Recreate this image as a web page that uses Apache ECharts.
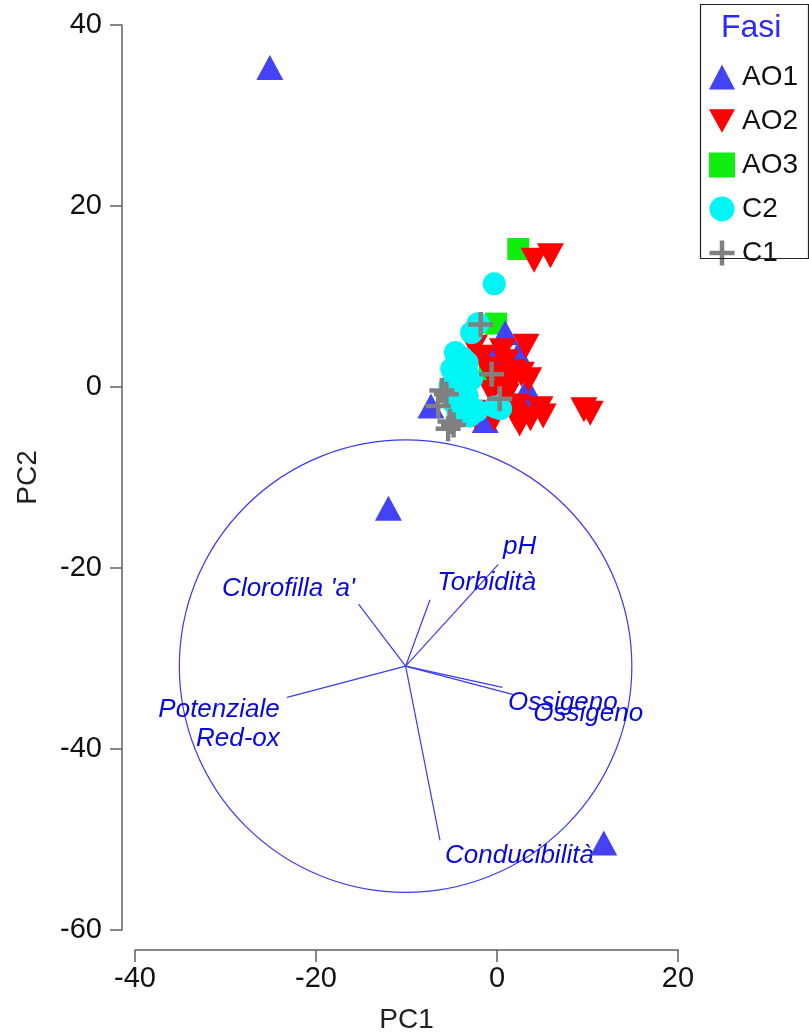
<!DOCTYPE html>
<html>
<head>
<meta charset="utf-8">
<script src="https://cdn.jsdelivr.net/npm/echarts@6/dist/echarts.min.js"></script>
<style>html,body{margin:0;padding:0;background:#fff}#c{width:809px;height:1034px}</style>
</head>
<body>
<div id="c"></div>
<script>
// ---- data ----
const groups = ['AO1', 'AO2', 'AO3', 'C2', 'C1'];
const ao1 = [[-25.1,35.3],[-12.0,-13.4],[11.8,-50.4],[0.9,6.0],[2.35,3.65],[3.35,-0.2],[-7.3,-2.1],[-0.2,3.5],[-1.3,-3.7],[2.9,-1.4]];
const ao2 = [[4.1,14.0],[5.9,14.5],[3.2,4.5],[-2.5,4.4],[-1.7,3.3],[0.6,4.0],[1.0,2.8],[1.8,1.7],[0.3,1.2],[2.7,1.4],[3.5,0.8],[1.0,-1.0],[-0.6,-0.6],[2.2,-2.1],[2.0,-3.2],[2.5,-4.1],[4.75,-2.4],[5.1,-3.2],[3.7,-3.5],[9.6,-2.5],[10.3,-2.9],[-2.2,-2.8],[-2.4,-3.3],[-0.3,-3.5],[1.5,0.3],[-1.0,2.0]];
const ao3 = [[2.35,15.25],[-0.1,7.0],[-0.8,1.7]];
const c2 = [[-0.3,11.4],[-2.1,7.0],[-2.8,6.0],[-4.6,3.8],[-3.8,3.2],[-3.3,2.7],[-5.0,2.0],[-4.0,1.0],[-2.8,0.9],[-5.2,0.1],[-3.8,-0.5],[-3.3,-1.0],[-4.8,-1.7],[-3.9,-2.6],[-2.2,-2.6],[-4.3,-3.0],[-3.0,-3.2],[-0.2,-2.2],[0.4,-2.4]];
const c1 = [[-1.8,6.9],[-0.6,1.4],[0.3,-1.3],[-5.6,-0.8],[-6.1,-0.4],[-6.5,-2.1],[-5.4,-4.6],[-4.8,-4.2],[-5.2,-3.8]];
// correlation circle: centre x, centre y, radius
const corrCircle = [[-10.1, -30.85, 25]];
const vectorOrigin = [-10.1, -30.85];
const vectorNames = ["Clorofilla 'a'", 'Torbidità', 'pH', 'Potenziale\nRed-ox', 'Ossigeno', 'Ossigeno', 'Conducibilità'];
const vectorEnds = [[-15.3,-24.0],[-7.4,-23.5],[0.15,-19.6],[-23.2,-34.3],[0.6,-33.2],[1.8,-34.0],[-6.3,-50.1]];
const vectorLabelAt = [[-15.7,-22.3],[-6.6,-21.6],[0.65,-17.7],[-24.0,-37.3],[1.2,-34.9],[4.0,-36.1],[-5.75,-51.8]];
const vectorLabelSide = ['left','right','right','left','right','right','right'];
const xTicks = {min: -40, max: 20, interval: 20};
const yTicks = {min: -60, max: 40, interval: 20};

// ---- styles ----
const FONT = "'Liberation Sans', Arial, sans-serif";
const VEC = '#3a3af0';
const VTXT = '#0808d8';
const colors = {AO1: '#4343f5', AO2: '#ff0000', AO3: '#10ee10', C2: '#00f5f5', C1: '#808080'};
const downTri = 'path://M0,0L1,0L0.5,0.9Z';
const plus = 'path://M0.41,0H0.59V0.41H1V0.59H0.59V1H0.41V0.59H0V0.41H0.41Z';

const chart = echarts.init(document.getElementById('c'), null, {renderer: 'canvas'});

const axisCommon = {
  axisLine: {show: true, onZero: false, lineStyle: {color: '#606060', width: 1.5}},
  axisTick: {show: true, length: 12, lineStyle: {color: '#606060', width: 1.5}},
  splitLine: {show: false},
  nameTextStyle: {fontFamily: FONT, fontSize: 28, color: '#222'}
};

const option = {
  animation: false,
  backgroundColor: '#fff',
  grid: {left: 135, right: 131, top: 25, bottom: 104, containLabel: false, outerBoundsMode: 'none'},
  xAxis: Object.assign({}, axisCommon, {
    type: 'value', min: xTicks.min, max: xTicks.max, interval: xTicks.interval,
    offset: 20, name: 'PC1', nameLocation: 'middle', nameGap: 56,
    axisLabel: {fontFamily: FONT, fontSize: 29, color: '#111', margin: 14}
  }),
  yAxis: Object.assign({}, axisCommon, {
    type: 'value', min: yTicks.min, max: yTicks.max, interval: yTicks.interval,
    offset: 13, name: 'PC2', nameLocation: 'middle', nameGap: 80, nameRotate: 90,
    axisLabel: {fontFamily: FONT, fontSize: 29, color: '#111', margin: 20}
  }),
  legend: {
    orient: 'vertical', left: 704, top: 58, itemWidth: 26, itemHeight: 25, itemGap: 16,
    data: groups, selectedMode: false,
    textStyle: {fontFamily: FONT, fontSize: 28, color: '#111', padding: [0,0,0,2]}
  },
  graphic: [
    {type: 'rect', left: 698, top: 2, shape: {width: 108, height: 254}, style: {fill: 'none', stroke: '#222', lineWidth: 1.2}, z: 100},
    {type: 'text', left: 721, top: 12, style: {text: 'Fasi', fontFamily: FONT, fontSize: 32, fill: '#2a2aff'}, z: 100}
  ],
  series: [
    {
      type: 'custom', name: 'circle', silent: true, z: 1,
      data: corrCircle, encode: {x: 0, y: 1},
      renderItem: function (params, api) {
        const c = api.coord([api.value(0), api.value(1)]);
        const s = api.size([api.value(2), api.value(2)]);
        return {type: 'circle', shape: {cx: c[0], cy: c[1], r: (s[0] + s[1]) / 2}, style: {fill: 'none', stroke: VEC, lineWidth: 1.2}};
      }
    },
    {
      type: 'custom', name: 'vectors', silent: true, z: 1,
      data: vectorEnds.map(e => [vectorOrigin[0], vectorOrigin[1], e[0], e[1]]),
      encode: {x: [0, 2], y: [1, 3]},
      renderItem: function (params, api) {
        const p0 = api.coord([api.value(0), api.value(1)]);
        const p1 = api.coord([api.value(2), api.value(3)]);
        return {type: 'line', shape: {x1: p0[0], y1: p0[1], x2: p1[0], y2: p1[1]}, style: {stroke: VEC, lineWidth: 1.2}};
      }
    },
    {
      type: 'scatter', name: 'vecLabels', silent: true, symbolSize: 0.1, z: 2,
      data: vectorLabelAt.map((p, i) => ({
        value: p, name: vectorNames[i],
        label: {position: vectorLabelSide[i], align: vectorLabelSide[i] === 'left' ? 'right' : 'left'}
      })),
      label: {show: true, distance: 0, formatter: '{b}', fontFamily: FONT, fontStyle: 'italic', fontSize: 26, lineHeight: 29, color: VTXT, opacity: 1},
      itemStyle: {color: 'transparent'}
    },
    {type: 'scatter', name: 'AO1', data: ao1, symbol: 'triangle', symbolSize: [27, 25], itemStyle: {color: colors.AO1, opacity: 1}, z: 4},
    {type: 'scatter', name: 'AO2', data: ao2, symbol: downTri, symbolSize: [27, 25], itemStyle: {color: colors.AO2, opacity: 1}, z: 5},
    {type: 'scatter', name: 'AO3', data: ao3, symbol: 'rect', symbolSize: 22, itemStyle: {color: colors.AO3, opacity: 1}, z: 3},
    {type: 'scatter', name: 'C2', data: c2, symbol: 'circle', symbolSize: 23, itemStyle: {color: colors.C2, opacity: 1}, z: 6},
    {type: 'scatter', name: 'C1', data: c1, symbol: plus, symbolSize: 25, itemStyle: {color: colors.C1, opacity: 1}, z: 7}
  ]
};
chart.setOption(option);
</script>
</body>
</html>
